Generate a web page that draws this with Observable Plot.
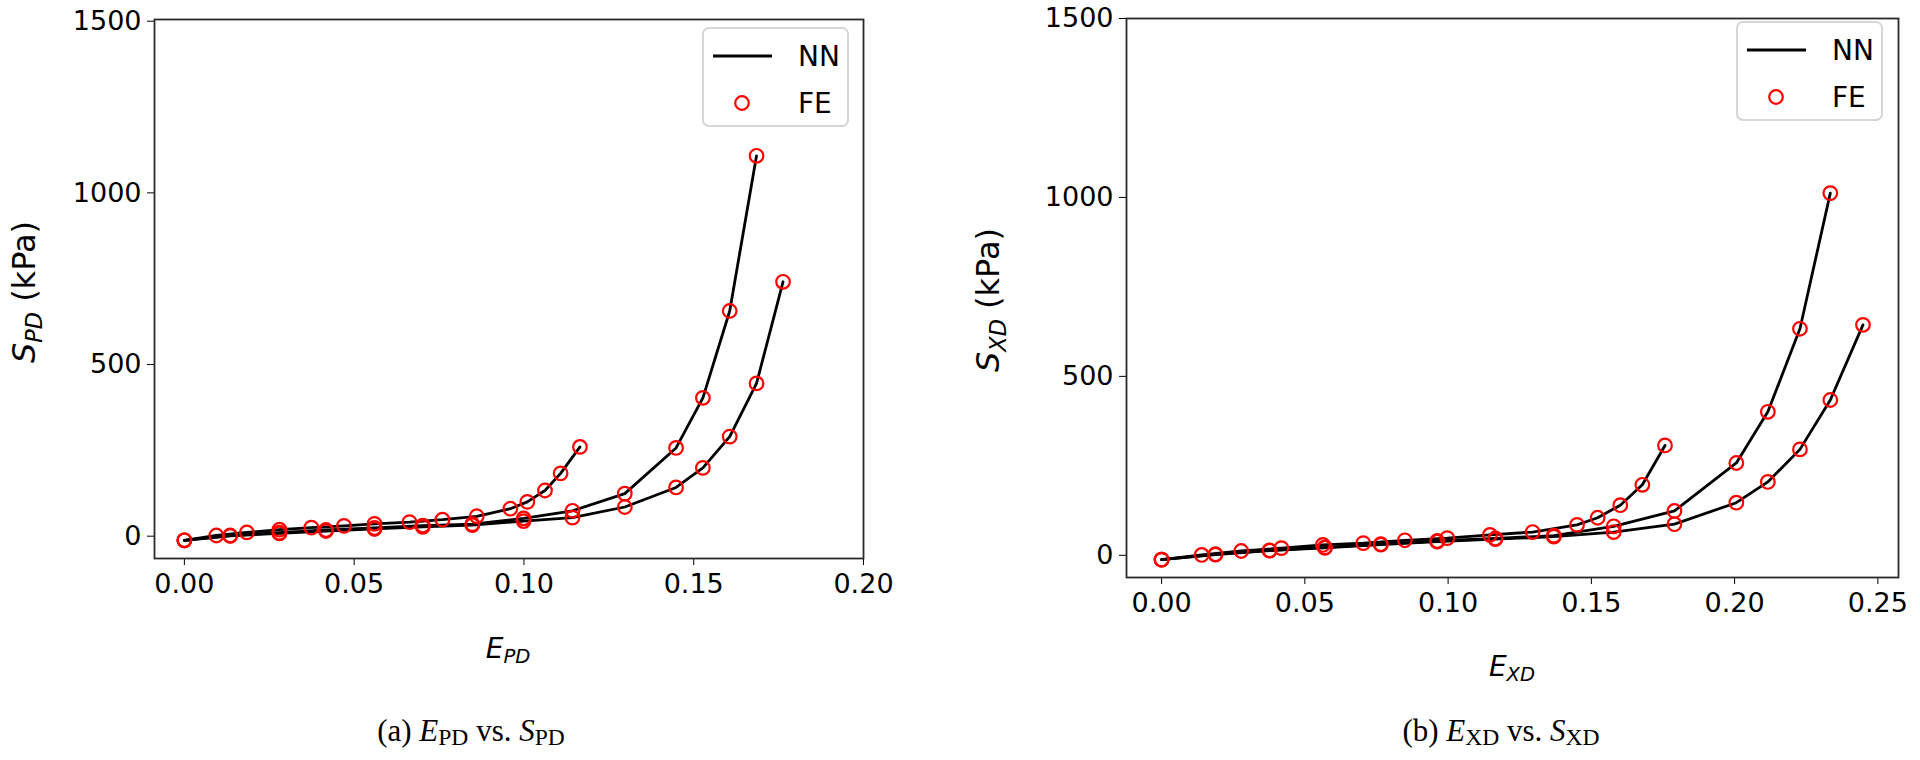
<!DOCTYPE html>
<html><head><meta charset="utf-8">
<script src="https://cdn.jsdelivr.net/npm/d3@7"></script>
<script src="https://cdn.jsdelivr.net/npm/@observablehq/plot@0.6"></script>
<style>
body{margin:0;background:#fff;}
#root{position:relative;width:1920px;height:760px;overflow:hidden;font-family:"DejaVu Sans";background:#fff;}
.plot{position:absolute;top:0;}
.lbl{position:absolute;font-family:"DejaVu Sans";font-size:28px;white-space:nowrap;transform:translate(-50%,-50%);color:#000;}
.ylbl{font-size:32px;transform:translate(-50%,-50%) rotate(-90deg);}
.sub{font-size:70%;vertical-align:-0.28em;}
.cap{position:absolute;font-family:"Liberation Serif";font-size:31px;transform:translate(-50%,-50%);white-space:nowrap;color:#000;}
.capsub{font-size:76%;vertical-align:-0.2em;}
.legend{position:absolute;width:147px;height:100px;border:2px solid #d6d6d6;border-radius:7px;background:rgba(255,255,255,0.85);box-sizing:border-box;}
.legend svg{position:absolute;left:0;top:0;}
.legend span{position:absolute;font-family:"DejaVu Sans";font-size:28px;color:#000;transform:translateY(-50%);}
</style></head>
<body><div id="root"></div>
<script>
// ---- Left panel: E_PD vs S_PD ----
const pdA_x = [0, 0.0094, 0.0184, 0.028, 0.0374, 0.047, 0.056, 0.0663, 0.076, 0.0861, 0.096, 0.101, 0.1062, 0.1108, 0.1165];
const pdA_y = [-12, 2, 11, 19, 25, 30, 36, 41, 48, 58, 80, 100, 133, 183, 260];
const pdB_x = [0, 0.0135, 0.028, 0.0417, 0.056, 0.0702, 0.0848, 0.0999, 0.1143, 0.1297, 0.1448, 0.1527, 0.1606, 0.1685];
const pdB_y = [-12, 2, 10, 18, 24, 31, 35, 52, 74, 124, 257, 403, 656, 1108];
const pdC_x = [0, 0.0135, 0.028, 0.0417, 0.056, 0.0702, 0.0848, 0.0999, 0.1143, 0.1297, 0.1448, 0.1527, 0.1606, 0.1685, 0.1763];
const pdC_y = [-12, 1, 8, 15, 21, 27, 32, 44, 54, 85, 142, 199, 290, 445, 741];
// ---- Right panel: E_XD vs S_XD ----
const xdA_x = [0, 0.014, 0.0278, 0.0418, 0.0563, 0.0704, 0.0849, 0.0997, 0.1146, 0.1295, 0.145, 0.1522, 0.1601, 0.1678, 0.1757];
const xdA_y = [-12, 1, 12, 20, 29, 34, 42, 48, 57, 65, 85, 105, 140, 197, 307];
const xdB_x = [0, 0.0188, 0.0377, 0.057, 0.0765, 0.0962, 0.1165, 0.1369, 0.1578, 0.179, 0.2006, 0.2116, 0.2228, 0.2334];
const xdB_y = [-12, 3, 14, 22, 31, 40, 47, 55, 81, 124, 258, 401, 633, 1012];
const xdC_x = [0, 0.0188, 0.0377, 0.057, 0.0765, 0.0962, 0.1165, 0.1369, 0.1578, 0.179, 0.2006, 0.2116, 0.2228, 0.2334, 0.2448];
const xdC_y = [-12, 2, 13, 21, 30, 38, 45, 52, 65, 87, 147, 205, 296, 434, 644];

const yTicks = [0, 500, 1000, 1500];
const xTicksPD = [0, 0.05, 0.10, 0.15, 0.20];
const xTicksXD = [0, 0.05, 0.10, 0.15, 0.20, 0.25];
const legendLabels = ["NN", "FE"];

function rows(series) {
  const out = [];
  series.forEach(([name, xs, ys]) => xs.forEach((x, i) => out.push({s: name, x, y: ys[i]})));
  return out;
}
const pdData = rows([["A", pdA_x, pdA_y], ["B", pdB_x, pdB_y], ["C", pdC_x, pdC_y]]);
const xdData = rows([["A", xdA_x, xdA_y], ["B", xdB_x, xdB_y], ["C", xdC_x, xdC_y]]);

function panel(data, cfg) {
  return Plot.plot({
    width: cfg.width, height: cfg.height,
    marginLeft: cfg.ml, marginRight: cfg.mr, marginTop: cfg.mt, marginBottom: cfg.mb,
    x: {domain: cfg.xdom, ticks: cfg.xticks, tickFormat: d3.format(".2f"), label: null, tickSize: 7, tickPadding: 8},
    y: {domain: cfg.ydom, ticks: yTicks, tickFormat: d3.format("d"), label: null, tickSize: 7, tickPadding: 6},
    style: {fontFamily: "DejaVu Sans", fontSize: "27px", color: "#000", background: "transparent", overflow: "visible"},
    marks: [
      Plot.line(data, {x: "x", y: "y", z: "s", stroke: "#000", strokeWidth: 2.8}),
      Plot.dot(data, {x: "x", y: "y", r: 6.8, stroke: "#ff0000", strokeWidth: 2.2, fill: "none"}),
      Plot.frame({stroke: "#2a2a2a", strokeWidth: 1.8})
    ]
  });
}

const root = document.getElementById("root");
function place(el, left) { el.classList.add("plot"); el.style.left = left + "px"; root.appendChild(el); }

place(panel(pdData, {width: 900, height: 620, ml: 154, mr: 37, mt: 19, mb: 62, xdom: [-0.0088, 0.2], xticks: xTicksPD, ydom: [-65, 1505]}), 0);
place(panel(xdData, {width: 960, height: 620, ml: 166, mr: 22, mt: 18, mb: 43, xdom: [-0.01225, 0.2572], xticks: xTicksXD, ydom: [-62, 1500]}), 960);

function addHTML(html) { root.insertAdjacentHTML("beforeend", html); }
addHTML(`<div class="lbl" style="left:508px;top:650px"><i>E</i><span class="sub"><i>PD</i></span></div>`);
addHTML(`<div class="lbl" style="left:1512px;top:668px"><i>E</i><span class="sub"><i>XD</i></span></div>`);
addHTML(`<div class="lbl ylbl" style="left:26px;top:292px"><i>S</i><span class="sub"><i>PD</i></span> (kPa)</div>`);
addHTML(`<div class="lbl ylbl" style="left:990px;top:300px"><i>S</i><span class="sub"><i>XD</i></span> (kPa)</div>`);
addHTML(`<div class="cap" style="left:471px;top:732px">(a) <i>E</i><span class="capsub">PD</span> vs. <i>S</i><span class="capsub">PD</span></div>`);
addHTML(`<div class="cap" style="left:1501px;top:732px">(b) <i>E</i><span class="capsub">XD</span> vs. <i>S</i><span class="capsub">XD</span></div>`);

function legend(left, top) {
  addHTML(`<div class="legend" style="left:${left}px;top:${top}px">
    <svg width="147" height="100"><line x1="9" x2="68" y1="27" y2="27" stroke="#000" stroke-width="2.8"/>
    <circle cx="38" cy="74" r="6.8" fill="none" stroke="#ff0000" stroke-width="2.2"/></svg>
    <span style="left:94px;top:27px">${legendLabels[0]}</span>
    <span style="left:94px;top:74px">${legendLabels[1]}</span></div>`);
}
legend(702, 27);
legend(1736, 21);
</script></body></html>
